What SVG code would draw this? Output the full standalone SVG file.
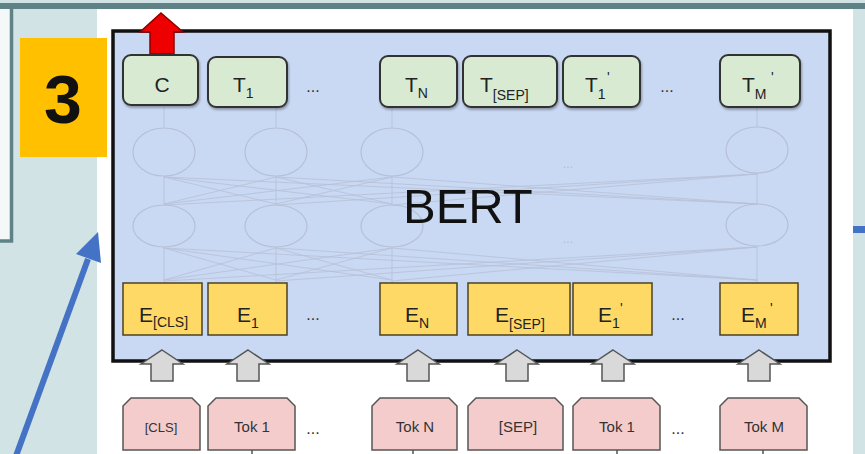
<svg xmlns="http://www.w3.org/2000/svg" width="865" height="454" viewBox="0 0 865 454">
<style>
text{font-family:"Liberation Sans",Arial,sans-serif;fill:#222}
.tbox{fill:#d9ead3;stroke:#333;stroke-width:2}
.ebox{fill:#ffd966;stroke:#4d4020;stroke-width:1.5}
.pbox{fill:#f4cccc;stroke:#555;stroke-width:1.5}
.garrow{fill:#d9d9d9;stroke:#555;stroke-width:1.5}
.big{font-size:21px;text-anchor:start}
.sub{font-size:14px}
.tok{font-size:15px;text-anchor:middle;fill:#333}
.dots{font-size:16px;text-anchor:middle;fill:#333}
.ell{fill:none;stroke:#b6c0d6;stroke-width:1.2}
.net{stroke:#b6c0d6;stroke-width:1;fill:none;opacity:0.8}
</style>
<defs>
<filter id="sh" x="-10%" y="-10%" width="130%" height="140%"><feDropShadow dx="1" dy="2" stdDeviation="1" flood-color="#000" flood-opacity="0.3"/></filter>
</defs>
<!-- background -->
<rect x="0" y="0" width="865" height="454" fill="#d2e3e5"/>
<rect x="0" y="9" width="11" height="232" fill="#f4f8f8"/>
<rect x="97" y="9" width="756" height="445" fill="#ffffff"/>
<!-- frame lines -->
<line x1="0" y1="6" x2="865" y2="6" stroke="#5e8285" stroke-width="6"/>
<polyline points="11.5,9 11.5,241 0,241" fill="none" stroke="#5e8285" stroke-width="3.5"/>
<rect x="853" y="226" width="12" height="7" fill="#4472c4"/>

<!-- BERT box -->
<g id="bert-box">
<rect x="113" y="31" width="717" height="330" fill="#c9d8f3" stroke="#111" stroke-width="3.5"/>
</g>

<!-- faint network -->
<g id="network">
<ellipse class="ell" cx="164" cy="152" rx="31" ry="24"/>
<ellipse class="ell" cx="276" cy="152" rx="31" ry="24"/>
<ellipse class="ell" cx="392" cy="152" rx="31" ry="24"/>
<ellipse class="ell" cx="757" cy="150" rx="31" ry="23"/>
<ellipse class="ell" cx="164" cy="226" rx="31" ry="21"/>
<ellipse class="ell" cx="276" cy="226" rx="31" ry="21"/>
<ellipse class="ell" cx="392" cy="226" rx="31" ry="21"/>
<ellipse class="ell" cx="757" cy="225" rx="31" ry="21"/>
<path class="net" d="M164,107V128M276,107V128M392,107V128M757,107V127M164,176V205M276,176V205M392,176V205M757,173V204M164,247V283M276,247V283M392,247V283M757,246V283"/>
<path class="net" d="M164,177L276,204M164,177L392,204M164,177L757,204M276,177L164,204M276,177L392,204M276,177L757,204M392,177L164,204M392,177L276,204M392,177L757,204M757,174L164,205M757,174L276,205M757,174L392,205"/>
<path class="net" d="M164,248L276,280M164,248L392,280M164,248L757,280M276,248L164,280M276,248L392,280M276,248L757,280M392,248L164,280M392,248L276,280M392,248L757,280M757,247L164,281M757,247L276,281M757,247L392,281"/>
<text x="568" y="168" style="font-size:12px;fill:#b3bdd2;text-anchor:middle">...</text>
<text x="568" y="243" style="font-size:12px;fill:#b3bdd2;text-anchor:middle">...</text>
</g>

<g id="bert-label">
<text x="403" y="223" style="font-size:49px;fill:#111">BERT</text>
</g>

<!-- label 3 -->
<g id="step3">
<rect x="20" y="38" width="87" height="119" fill="#ffc000"/>
<text x="63" y="123" style="font-size:68px;font-weight:bold;fill:#111;text-anchor:middle">3</text>
</g>

<!-- red output arrow -->
<g id="red-arrow">
<polygon points="161,13 183,32 174,32 174,54 150,54 150,32 140,32" fill="#ee0000" stroke="#8a0000" stroke-width="1.5"/>
</g>

<!-- top output boxes -->
<g id="t-c"><rect class="tbox" filter="url(#sh)" x="123" y="55" width="75" height="50" rx="8"/><text x="162" y="92" class="big" style="text-anchor:middle">C</text></g>
<g id="t-1"><rect class="tbox" filter="url(#sh)" x="208" y="57" width="79" height="50" rx="8"/><text x="233" y="92" class="big">T<tspan class="sub" dy="6">1</tspan></text></g>
<g id="t-n"><rect class="tbox" filter="url(#sh)" x="380" y="56" width="77" height="51" rx="8"/><text x="405" y="92" class="big">T<tspan class="sub" dy="6">N</tspan></text></g>
<g id="t-sep"><rect class="tbox" filter="url(#sh)" x="463" y="56" width="94" height="51" rx="8"/><text x="480" y="92" class="big">T<tspan class="sub" dy="8">[SEP]</tspan></text></g>
<g id="t-1p"><rect class="tbox" filter="url(#sh)" x="563" y="56" width="77" height="51" rx="8"/><text x="585" y="92" class="big">T<tspan class="sub" dy="7">1</tspan></text><text x="607" y="82" class="sub">'</text></g>
<g id="t-mp"><rect class="tbox" filter="url(#sh)" x="720" y="55" width="80" height="52" rx="8"/><text x="742" y="92" class="big">T<tspan class="sub" dy="7">M</tspan></text><text x="771" y="82" class="sub">'</text></g>
<text x="313" y="92" class="dots">...</text>
<text x="667" y="92" class="dots">...</text>

<!-- embedding boxes -->
<g id="e-cls"><rect class="ebox" x="123" y="283" width="79" height="52"/><text x="139" y="322" class="big">E<tspan class="sub" dy="5">[CLS]</tspan></text></g>
<g id="e-1"><rect class="ebox" x="208" y="283" width="79" height="52"/><text x="237" y="322" class="big">E<tspan class="sub" dy="6">1</tspan></text></g>
<g id="e-n"><rect class="ebox" x="380" y="283" width="77" height="52"/><text x="405" y="322" class="big">E<tspan class="sub" dy="6">N</tspan></text></g>
<g id="e-sep"><rect class="ebox" x="468" y="283" width="102" height="52"/><text x="495" y="322" class="big">E<tspan class="sub" dy="7">[SEP]</tspan></text></g>
<g id="e-1p"><rect class="ebox" x="573" y="283" width="79" height="52"/><text x="598" y="322" class="big">E<tspan class="sub" dy="6">1</tspan></text><text x="620" y="313" class="sub">'</text></g>
<g id="e-mp"><rect class="ebox" x="720" y="283" width="78" height="52"/><text x="741" y="322" class="big">E<tspan class="sub" dy="6">M</tspan></text><text x="770" y="313" class="sub">'</text></g>
<text x="313" y="320" class="dots">...</text>
<text x="678" y="320" class="dots">...</text>

<!-- input arrows -->
<g id="connectors">
<polygon class="garrow" points="162,350 183,364 173,364 173,381 151,381 151,364 141,364"/>
<polygon class="garrow" points="248,350 269,364 259,364 259,381 237,381 237,364 227,364"/>
<polygon class="garrow" points="418,350 439,364 429,364 429,381 407,381 407,364 397,364"/>
<polygon class="garrow" points="517,350 538,364 528,364 528,381 506,381 506,364 496,364"/>
<polygon class="garrow" points="613,350 634,364 624,364 624,381 602,381 602,364 592,364"/>
<polygon class="garrow" points="759,350 780,364 770,364 770,381 748,381 748,364 738,364"/>
<path d="M252,450V454M413,450V454M617,450V454M763,450V454" stroke="#555" stroke-width="1.5"/>
<line x1="16" y1="456" x2="88" y2="259" stroke="#4472c4" stroke-width="6"/>
<polygon points="98,232 101,263 76,254" fill="#4472c4"/>
</g>

<!-- token boxes -->
<g id="tok-cls"><path class="pbox" d="M123,450V406L131,398H192L200,406V450Z"/><text x="161" y="432" class="tok" style="font-size:13px">[CLS]</text></g>
<g id="tok-1"><path class="pbox" d="M208,450V406L216,398H287L295,406V450Z"/><text x="252" y="432" class="tok">Tok 1</text></g>
<g id="tok-n"><path class="pbox" d="M372,450V406L380,398H449L457,406V450Z"/><text x="415" y="432" class="tok">Tok N</text></g>
<g id="tok-sep"><path class="pbox" d="M468,450V406L476,398H555L563,406V450Z"/><text x="518" y="432" class="tok">[SEP]</text></g>
<g id="tok-1b"><path class="pbox" d="M573,450V406L581,398H652L660,406V450Z"/><text x="617" y="432" class="tok">Tok 1</text></g>
<g id="tok-m"><path class="pbox" d="M720,450V406L728,398H799L807,406V450Z"/><text x="764" y="432" class="tok">Tok M</text></g>
<text x="313" y="434" class="dots">...</text>
<text x="678" y="434" class="dots">...</text>
</svg>
